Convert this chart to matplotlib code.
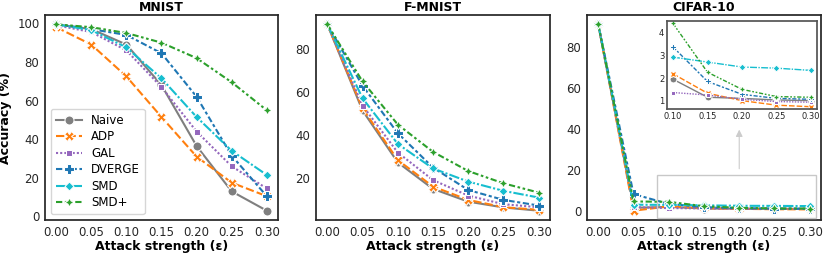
import numpy as np
import matplotlib
matplotlib.use("Agg")
import matplotlib.pyplot as plt

eps = [0.0, 0.05, 0.10, 0.15, 0.20, 0.25, 0.30]
methods = ["Naive", "ADP", "GAL", "DVERGE", "SMD", "SMD+"]

mnist = {
    "Naive":  [99.5, 97.0, 89.0, 68.0, 36.5, 13.0, 3.0],
    "ADP":    [98.0, 89.0, 72.5, 51.5, 31.0, 17.5, 10.5],
    "GAL":    [99.0, 95.5, 86.0, 67.0, 44.0, 26.0, 14.5],
    "DVERGE": [99.5, 97.0, 94.0, 84.5, 62.0, 31.5, 10.5],
    "SMD":    [99.5, 96.5, 87.5, 71.5, 51.5, 34.0, 21.5],
    "SMD+":   [99.5, 98.0, 95.0, 90.0, 82.0, 69.5, 55.0],
}
fmnist = {
    "Naive":  [91.5, 51.5, 27.4, 15.1, 9.2, 6.5, 5.0],
    "ADP":    [91.5, 52.5, 28.5, 16.2, 10.0, 6.6, 5.4],
    "GAL":    [91.5, 53.8, 32.0, 19.2, 12.0, 8.0, 6.6],
    "DVERGE": [91.5, 63.0, 41.0, 25.0, 14.6, 10.0, 7.4],
    "SMD":    [91.5, 57.2, 36.0, 24.6, 18.5, 14.2, 11.1],
    "SMD+":   [91.5, 65.0, 45.0, 32.3, 23.4, 17.7, 13.4],
}
cifar = {
    "Naive":  [91.0, 1.5, 1.95, 1.15, 1.10, 1.03, 1.00],
    "ADP":    [91.0, 0.1, 2.19, 1.33, 1.00, 0.80, 0.73],
    "GAL":    [91.0, 1.8, 1.36, 1.25, 1.06, 0.96, 0.93],
    "DVERGE": [91.0, 8.2, 3.38, 1.85, 1.28, 1.10, 1.06],
    "SMD":    [91.0, 3.0, 2.93, 2.71, 2.49, 2.44, 2.34],
    "SMD+":   [91.0, 4.6, 4.42, 2.26, 1.50, 1.18, 1.15],
}

colors = {"Naive": "#7f7f7f", "ADP": "#ff7f0e", "GAL": "#9467bd",
          "DVERGE": "#1f77b4", "SMD": "#17becf", "SMD+": "#2ca02c"}
markers = {"Naive": "o", "ADP": "X", "GAL": (4, 0, 45), "DVERGE": "P",
           "SMD": (4, 0, 0), "SMD+": (4, 1, 0)}
dashes = {"Naive": (None, None), "ADP": (4, 1.5), "GAL": (1, 1),
          "DVERGE": (3, 1.25, 1.5, 1.25), "SMD": (5, 1, 1, 1),
          "SMD+": (3, 1.25, 1.25, 1.25, 1.25, 1.25)}

plt.rcParams["font.family"] = "DejaVu Sans"
W, H = 824, 256
fig = plt.figure(figsize=(W / 100, H / 100), dpi=100)


def box(l, t, r, b):
    return [l / W, 1 - b / H, (r - l) / W, (b - t) / H]


def style(ax, fs=8.5):
    for s in ax.spines.values():
        s.set_color("#262626")
        s.set_linewidth(1.25)
    ax.tick_params(length=0, labelsize=fs, colors="#262626", pad=4)


def draw(ax, xs, data, ms=6.5, lw=1.5):
    for m in methods:
        ys = data[m][-len(xs):]
        line, = ax.plot(xs, ys, color=colors[m], marker=markers[m],
                        markersize=ms, markeredgecolor="white", markeredgewidth=0.75,
                        lw=lw, label=m)
        if dashes[m][0] is not None:
            line.set_dashes(dashes[m])


axes = [fig.add_axes(box(45, 15, 278, 220)),
        fig.add_axes(box(316, 15, 550, 220)),
        fig.add_axes(box(587, 15, 821, 220))]
titles = ["MNIST", "F-MNIST", "CIFAR-10"]
for ax, data, title in zip(axes, [mnist, fmnist, cifar], titles):
    draw(ax, eps, data)
    style(ax)
    ax.set_title(title, fontsize=9, fontweight="bold", pad=3)
    ax.set_xticks(eps)
    ax.set_xticklabels([f"{e:.2f}" for e in eps])
    ax.set_xlabel("Attack strength (ε)", fontsize=9, fontweight="bold", labelpad=1)
    ax.set_xlim(-0.016, 0.316)

axes[0].set_ylabel("Accuracy (%)", fontsize=9, fontweight="bold")
axes[0].set_yticks([0, 20, 40, 60, 80, 100])
axes[1].set_yticks([20, 40, 60, 80])
axes[2].set_yticks([0, 20, 40, 60, 80])

leg = axes[0].legend(loc="lower left", fontsize=8.5, frameon=True,
                     handlelength=2.2, borderaxespad=0.5, labelspacing=0.3)
leg.get_frame().set_edgecolor("#cccccc")

# inset for CIFAR-10 (eps >= 0.10)
ax = axes[2]
ins = fig.add_axes(box(667, 21, 817, 109))
draw(ins, eps[2:], cifar, ms=5, lw=1.0)
style(ins, fs=6)
ins.spines[:].set_color("#555555")
ins.set_xlim(0.0913, 0.3087)
ins.set_ylim(0.63, 4.53)
ins.set_xticks(eps[2:])
ins.set_xticklabels([f"{e:.2f}" for e in eps[2:]])
ins.set_yticks([1, 2, 3, 4])
ins.tick_params(pad=2)

rect = plt.Rectangle((0.083, -3.6), 0.226, 21.0, fill=False, edgecolor="#c8c8c8",
                     lw=1.0, clip_on=False, zorder=5)
ax.add_patch(rect)
ax.annotate("", xy=(0.20, 41.0), xytext=(0.20, 19.2),
            arrowprops=dict(arrowstyle="-|>", color="#cccccc", lw=0.8))

fig.savefig("out.png", dpi=100)
